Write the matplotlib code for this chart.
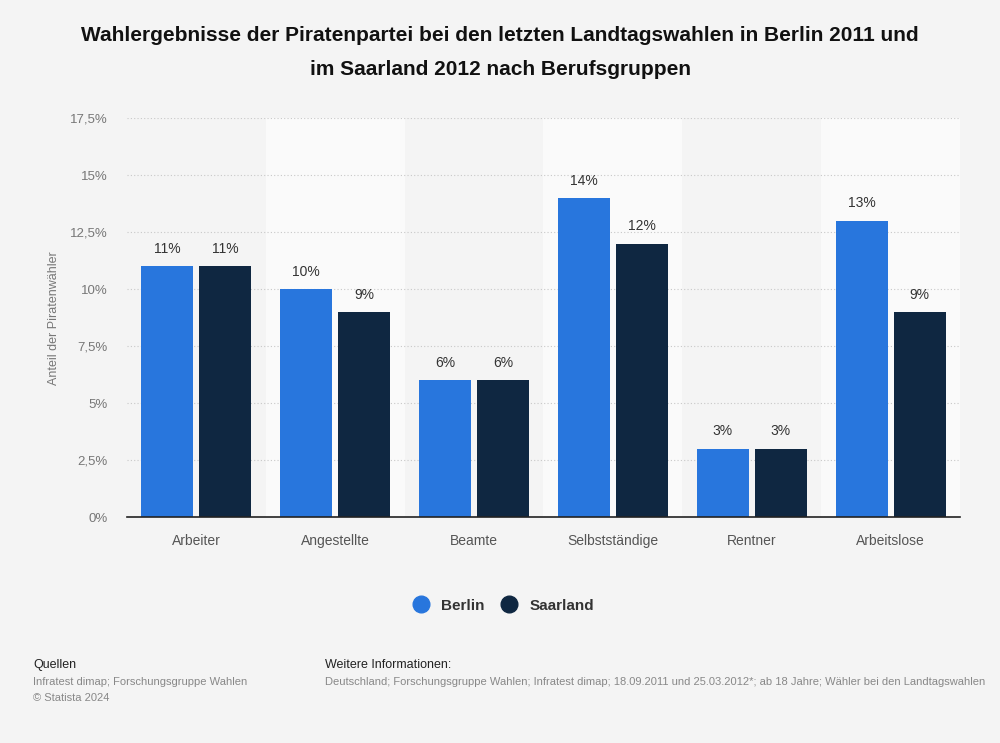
import matplotlib.pyplot as plt
from matplotlib.lines import Line2D
import numpy as np

plt.rcParams['font.family'] = ['Liberation Sans', 'DejaVu Sans']

categories = ["Arbeiter", "Angestellte", "Beamte", "Selbstständige", "Rentner", "Arbeitslose"]
berlin = [11, 10, 6, 14, 3, 13]
saarland = [11, 9, 6, 12, 3, 9]
yticks = [0, 2.5, 5, 7.5, 10, 12.5, 15, 17.5]
ytick_labels = ["0%", "2,5%", "5%", "7,5%", "10%", "12,5%", "15%", "17,5%"]

bg = "#f4f4f4"
c_berlin = "#2876dd"
c_saar = "#0f2741"

fig = plt.figure(figsize=(10, 7.43), dpi=100, facecolor=bg)
ax = fig.add_axes([0.127, 0.304, 0.833, 0.537])
ax.set_facecolor(bg)

x = np.arange(len(categories))
ax.set_xlim(-0.5, len(categories) - 0.5)
ax.set_ylim(0, 17.5)

# alternating lighter bands
for i in x:
    if i % 2 == 1:
        ax.axvspan(i - 0.5, i + 0.5, color="#fafafa", zorder=0, lw=0)

ax.set_yticks(yticks)
ax.set_yticklabels(ytick_labels)
ax.grid(axis="y", color="#c8c8c8", linestyle=(0, (1, 2)), linewidth=0.8, zorder=1)
ax.set_axisbelow(True)

w = 0.374
off = 0.209
b1 = ax.bar(x - off, berlin, w, color=c_berlin, zorder=3)
b2 = ax.bar(x + off, saarland, w, color=c_saar, zorder=3)

for bars, vals in ((b1, berlin), (b2, saarland)):
    for rect, v in zip(bars, vals):
        ax.text(rect.get_x() + rect.get_width() / 2, v + 0.45, f"{v}%",
                ha="center", va="bottom", fontsize=10, color="#333333")

ax.set_xticks(x)
ax.set_xticklabels(categories)
ax.tick_params(axis="x", length=0, labelsize=10, labelcolor="#555555", pad=12)
ax.tick_params(axis="y", length=0, labelsize=9.5, labelcolor="#777777", pad=14)
for s in ["top", "right", "left"]:
    ax.spines[s].set_visible(False)
ax.spines["bottom"].set_color("#222222")
ax.spines["bottom"].set_linewidth(1.2)
ax.spines["bottom"].set_zorder(4)

ax.set_ylabel("Anteil der Piratenwähler", fontsize=9, color="#777777", labelpad=7)

fig.text(0.5, 0.952, "Wahlergebnisse der Piratenpartei bei den letzten Landtagswahlen in Berlin 2011 und",
         ha="center", va="center", fontsize=15, fontweight="bold", color="#111111")
fig.text(0.5, 0.907, "im Saarland 2012 nach Berufsgruppen",
         ha="center", va="center", fontsize=15, fontweight="bold", color="#111111")

# legend
handles = [Line2D([], [], marker="o", ls="", markersize=12, color=c_berlin),
           Line2D([], [], marker="o", ls="", markersize=12, color=c_saar)]
leg = fig.legend(handles, ["Berlin", "Saarland"], loc="center", bbox_to_anchor=(0.5, 0.185),
                 ncol=2, frameon=False, handletextpad=0.3, columnspacing=0.6,
                 prop={"weight": "bold", "size": 11})
for t in leg.get_texts():
    t.set_color("#333333")

# footer
fig.text(0.033, 0.105, "Quellen", fontsize=9, color="#222222", va="center")
fig.text(0.033, 0.082, "Infratest dimap; Forschungsgruppe Wahlen", fontsize=8, color="#888888", va="center")
fig.text(0.033, 0.060, "© Statista 2024", fontsize=8, color="#888888", va="center")
fig.text(0.325, 0.105, "Weitere Informationen:", fontsize=9, color="#222222", va="center")
fig.text(0.325, 0.082, "Deutschland; Forschungsgruppe Wahlen; Infratest dimap; 18.09.2011 und 25.03.2012*; ab 18 Jahre; Wähler bei den Landtagswahlen",
         fontsize=8, color="#888888", va="center")

fig.savefig("out.png", dpi=100, facecolor=bg)
